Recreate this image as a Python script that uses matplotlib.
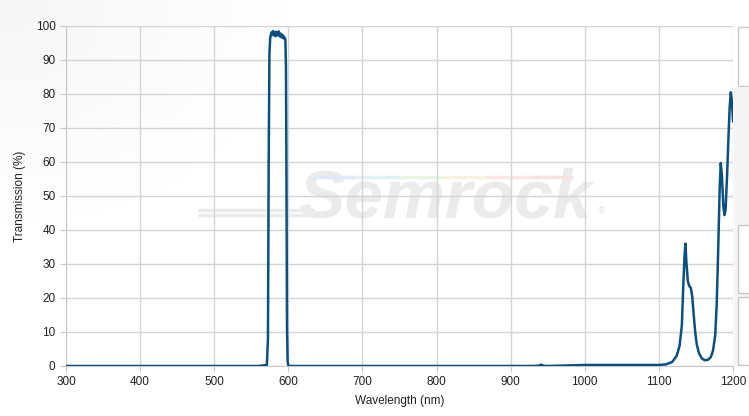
import numpy as np
import matplotlib
matplotlib.use("Agg")
import matplotlib.pyplot as plt
from matplotlib.patches import Rectangle

plt.rcParams['font.family'] = ['Liberation Sans', 'DejaVu Sans']

# transmission curve (nm, %)
wavelength = [300, 560, 571, 572.5, 573.5, 574.5, 575.5, 577, 578, 579, 580, 581, 582,
              583, 584, 585, 586, 587, 588, 589, 590, 591, 592, 593, 594, 595, 596,
              596.8, 597.5, 598.2, 599, 600, 700, 930, 938, 941, 944, 950, 975,
              1000, 1050, 1080, 1100, 1110, 1118, 1124, 1128, 1131, 1133, 1134.5,
              1135.8, 1137, 1139, 1141, 1143, 1145, 1147, 1149, 1151, 1154, 1158,
              1162, 1166, 1170, 1173, 1176, 1178, 1180, 1182, 1183.5, 1185, 1187,
              1188.5, 1190, 1192, 1194, 1195.5, 1197, 1198.5, 1200]
transmission = [0, 0, 0.3, 8, 60, 92, 96.5, 98, 97.3, 98.5, 97.5, 98.2, 97, 98.3, 97.2,
                98, 97.6, 98.4, 97, 97.8, 96.8, 97.5, 96.5, 97.2, 96.3, 96.6, 96,
                88, 55, 12, 1.5, 0, 0, 0, 0.1, 0.4, 0.1, 0, 0.15,
                0.3, 0.3, 0.3, 0.3, 0.5, 1.2, 3, 6, 12, 24, 32,
                36, 31, 25, 23.5, 23, 20.5, 15, 10, 6.5, 3.8, 2.2,
                1.7, 1.8, 2.6, 4.5, 9, 18, 34, 52, 59.7, 56, 47,
                44.4, 46, 56, 68, 76, 80.5, 78, 72]

x_ticks = [300, 400, 500, 600, 700, 800, 900, 1000, 1100, 1200]
y_ticks = [0, 10, 20, 30, 40, 50, 60, 70, 80, 90, 100]

W, H = 749, 416
fig = plt.figure(figsize=(W / 100, H / 100), dpi=100)

# faint grey shading in the top-left corner
bg = fig.add_axes([0, 0, 1, 1], zorder=-5)
gx, gy = np.meshgrid(np.linspace(0, 1, 200), np.linspace(0, 1, 120))
shade = np.clip(1 - np.hypot(gx * 1.8, gy * 1.3) * 1.3, 0, 1)
bg.imshow(1 - 0.04 * shade, cmap='gray', vmin=0, vmax=1,
          extent=[0, 1, 0, 1], aspect='auto')
bg.set_axis_off()

ax = fig.add_axes([66 / W, (H - 366) / H, (733 - 66) / W, (366 - 26) / H])
ax.patch.set_alpha(0)

# watermark
ax.text(0.568, 0.49, 'Semrock', transform=ax.transAxes, ha='center', va='center',
        fontsize=50, fontweight='bold', fontstyle='italic', color='#ebebeb',
        zorder=0)
ax.text(0.798, 0.455, '®', transform=ax.transAxes, ha='left', va='center',
        fontsize=7, color='#e2e2e2', zorder=0)
for yy in [0.46, 0.445]:
    ax.plot([0.2, 0.37], [yy, yy], transform=ax.transAxes, color='#ebebeb', lw=2.5,
            zorder=0, solid_capstyle='round')
rainbow = ['#e2e8f6', '#e0f2f6', '#e8f6e2', '#f6f4e0', '#f8e8e0', '#f6e2e2']
for i, c in enumerate(rainbow):
    ax.plot([0.37 + i * 0.065, 0.37 + (i + 1) * 0.065], [0.555, 0.555],
            transform=ax.transAxes, color=c, lw=2.5, zorder=0,
            solid_capstyle='butt')

ax.plot(wavelength, transmission, color='#0b4f80', lw=1.8, zorder=3,
        solid_joinstyle='round')

ax.set_xlim(300, 1200)
ax.set_ylim(0, 100)
ax.set_xticks(x_ticks)
ax.set_yticks(y_ticks)
ax.grid(True, color='#d4d4d4', lw=1)
ax.set_axisbelow(True)
for side in ['top', 'right']:
    ax.spines[side].set_visible(False)
for side in ['left', 'bottom']:
    ax.spines[side].set_color('#c8c8c8')
ax.tick_params(axis='both', length=4, color='#c8c8c8', labelsize=8.5,
               labelcolor='#222222')
ax.set_xlabel('Wavelength (nm)', fontsize=8.5, color='#222222', labelpad=5)
ax.set_ylabel('Transmission (%)', fontsize=8.5, color='#222222', labelpad=7)

# side panel on the right
fig.patches.append(Rectangle((734 / W, 1 - 366 / H), 20 / W, (366 - 88) / H,
                             transform=fig.transFigure, facecolor='#f4f4f4',
                             edgecolor='none'))
for y0, y1 in [(27, 86), (225, 293), (297, 365)]:
    fig.patches.append(Rectangle((737.5 / W, 1 - y1 / H), 20 / W, (y1 - y0) / H,
                                 transform=fig.transFigure, facecolor='white',
                                 edgecolor='#c8c8c8', lw=1))

fig.savefig('out.png', dpi=100)
